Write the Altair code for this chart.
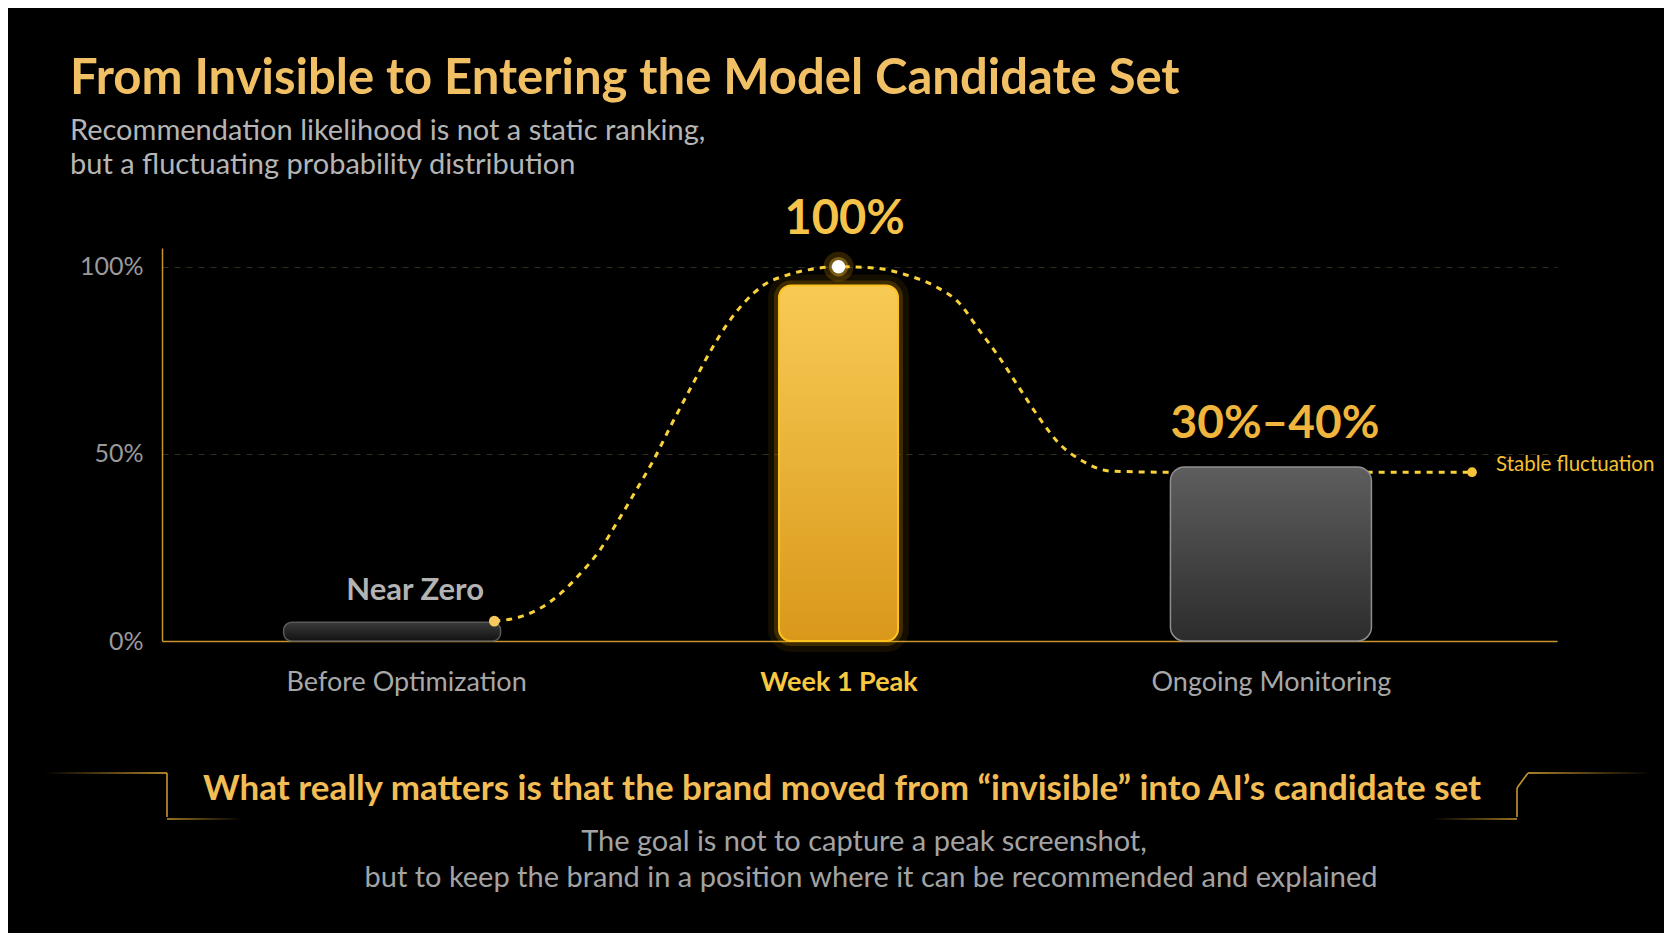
import altair as alt
import pandas as pd

# ---------------- data ----------------
categories = ["Before Optimization", "Week 1 Peak", "Ongoing Monitoring"]
bar_values = [5, 95, 46.5]
bar_labels = ["Near Zero", "100%", "30%–40%"]

# dotted trend curve (x in category units, y in %)
curve_x = [0.204, 0.262, 0.315, 0.361, 0.406, 0.445, 0.491, 0.528, 0.572, 0.613,
           0.659, 0.705, 0.744, 0.781, 0.827, 0.882, 0.941, 1.0, 1.088, 1.157,
           1.226, 1.279, 1.325, 1.371, 1.417, 1.463, 1.509, 1.561, 1.630, 1.768, 2.465]
curve_y = [5.3, 6.4, 9.1, 13.1, 18.4, 23.8, 32.3, 39.5, 48.3, 57.7,
           67.8, 77.7, 84.9, 90.3, 95.1, 97.8, 99.4, 100, 99.6, 97.8,
           94.6, 90.3, 83.1, 75.9, 67.8, 59.8, 52.9, 48.3, 45.4, 45.1, 45.1]

y_ticks = [0, 50, 100]
end_note = "Stable fluctuation"

title_text = "From Invisible to Entering the Model Candidate Set"
subtitle_lines = ["Recommendation likelihood is not a static ranking,",
                  "but a fluctuating probability distribution"]
headline_text = "What really matters is that the brand moved from “invisible” into AI’s candidate set"
footer_lines = ["The goal is not to capture a peak screenshot,",
                "but to keep the brand in a position where it can be recommended and explained"]

# ---------------- layout / style ----------------
W, H = 1395, 393
FONT = "Lato"
GOLD = "#c8952c"

bars = pd.DataFrame({"idx": list(range(len(categories))), "category": categories,
                     "value": bar_values, "label": bar_labels})
curve = pd.DataFrame({"x": curve_x, "y": curve_y})
peak_i = curve_y.index(max(curve_y))
start_pt = curve.iloc[[0]]
peak_pt = curve.iloc[[peak_i]]
end_pt = curve.iloc[[len(curve) - 1]].assign(note=end_note)

label_expr = "[" + ",".join("'" + c + "'" for c in categories) + "][datum.value]"

x_scale = alt.Scale(domain=[-0.553, 2.65], nice=False, zero=False)
y_scale = alt.Scale(domain=[0, 105], nice=False)

x_axis = alt.Axis(values=[0, 1, 2], labelExpr=label_expr, title=None, ticks=False, grid=False,
                  domainColor=GOLD, domainWidth=1.5, labelFont=FONT, labelFontSize=27,
                  labelBaseline="middle", labelPadding=41, labelLimit=0,
                  labelColor={"condition": {"test": "datum.value == 1", "value": "#f7c940"},
                              "value": "#a8a8a8"},
                  labelFontWeight={"condition": {"test": "datum.value == 1", "value": "bold"},
                                   "value": "normal"})
y_axis = alt.Axis(values=y_ticks, labelExpr="datum.value + '%'", title=None, ticks=False,
                  grid=True, gridDash=[6, 6], gridColor="#332c1e", gridWidth=1,
                  domainColor=GOLD, domainWidth=1.5, labelFont=FONT, labelFontSize=25,
                  labelColor="#9a9a9a", labelPadding=19)


def X(field):
    return alt.X(field, type="quantitative", scale=x_scale, axis=x_axis)


def Y(field):
    return alt.Y(field, type="quantitative", scale=y_scale, axis=y_axis)


def grad(c1, c2, vertical=True):
    return alt.Gradient(gradient="linear",
                        stops=[alt.GradientStop(color=c1, offset=0),
                               alt.GradientStop(color=c2, offset=1)],
                        x1=0, y1=0, x2=0 if vertical else 1, y2=1 if vertical else 0)


def one():
    return alt.Chart(pd.DataFrame({"k": [0]}))


# dotted curve
curve_layer = alt.Chart(curve).mark_line(
    interpolate="monotone", color="#f7d23a", strokeWidth=3, strokeDash=[6, 6]
).encode(x=X("x"), y=Y("y"))

def bar_layer(i, **kw):
    return alt.Chart(bars).transform_filter(alt.datum.idx == i).mark_bar(**kw).encode(
        x=X("idx"), y=Y("value"), y2=alt.datum(0))

glow1 = bar_layer(1, width=119, cornerRadius=12, fill="#ffb300", fillOpacity=0.0,
                  stroke="#ffb300", strokeWidth=22, strokeOpacity=0.08)
glow2 = bar_layer(1, width=119, cornerRadius=12, fill="#ffb300", fillOpacity=0.0,
                  stroke="#ffb300", strokeWidth=10, strokeOpacity=0.18)
bar0 = bar_layer(0, width=217, xOffset=-14, cornerRadius=8,
                 fill=grad("#3a3a3a", "#121212"), stroke="#5a5a5a", strokeWidth=1.5)
bar1 = bar_layer(1, width=119, cornerRadius=12,
                 fill=grad("#f8cb55", "#d9981a"), stroke="#ffc21f", strokeWidth=2)
bar2 = bar_layer(2, width=201, cornerRadius=14,
                 fill=grad("#5e5e5e", "#2c2c2c"), stroke="#8e8e8e", strokeWidth=1.5)

# markers on the curve
start_dot = alt.Chart(start_pt).mark_circle(size=115, color="#f5c860", opacity=1).encode(x=X("x"), y=Y("y"))
peak_glow = alt.Chart(peak_pt).mark_circle(size=900, color="#ffb300", opacity=0.18).encode(x=X("x"), y=Y("y"))
peak_glow2 = alt.Chart(peak_pt).mark_circle(size=380, color="#ffc940", opacity=0.35).encode(x=X("x"), y=Y("y"))
peak_dot = alt.Chart(peak_pt).mark_circle(size=180, color="#ffffff", opacity=1).encode(x=X("x"), y=Y("y"))
end_dot = alt.Chart(end_pt).mark_circle(size=95, color="#f5c23a", opacity=1).encode(x=X("x"), y=Y("y"))
end_text = alt.Chart(end_pt).mark_text(
    align="left", baseline="middle", dx=24, dy=-7, font=FONT, fontSize=20.5, color="#f5c030"
).encode(x=X("x"), y=Y("y"), text="note:N")

def value_label(i, **kw):
    return alt.Chart(bars).transform_filter(alt.datum.idx == i).mark_text(
        align="center", baseline="middle", font=FONT, fontWeight="bold", **kw
    ).encode(x=X("idx"), y=Y("value"), text="label:N")

lab0 = value_label(0, dx=9, dy=-31, fontSize=31, color="#b3b3b3")
lab1 = value_label(1, dx=6, dy=-65, fontSize=47, color="#f6c34a")
lab2 = value_label(2, dx=4, dy=-43, fontSize=46, color="#f0b53c")

# titles and footer (annotation text placed around the plot)
title = one().mark_text(text=title_text, align="left", baseline="alphabetic", font=FONT,
                        fontSize=49, fontWeight="bold", color="#f2c064").encode(
    x=alt.value(-92), y=alt.value(-154))
subtitle = one().mark_text(text=subtitle_lines, align="left", baseline="alphabetic", font=FONT,
                           fontSize=29, lineHeight=34, color="#b5b5b5").encode(
    x=alt.value(-92), y=alt.value(-108))
headline = one().mark_text(text=headline_text, align="center", baseline="middle", font=FONT,
                           fontSize=35, fontWeight="bold", color="#f2bd55").encode(
    x=alt.value(680), y=alt.value(541))
footer1 = one().mark_text(text=footer_lines[0], align="center", baseline="middle", font=FONT,
                          fontSize=29, color="#a3a3a3").encode(x=alt.value(702), y=alt.value(594))
footer2 = one().mark_text(text=footer_lines[1], align="center", baseline="middle", font=FONT,
                          fontSize=29, color="#a3a3a3").encode(x=alt.value(709), y=alt.value(630))

# decorative bracket frame around the headline
def hline(x0, x1, y, c0, c1):
    return one().mark_rect(fill=grad(c0, c1, vertical=False)).encode(
        x=alt.value(x0), x2=alt.value(x1), y=alt.value(y - 0.8), y2=alt.value(y + 0.8))

def seg(x0, y0, x1, y1, color=GOLD):
    return one().mark_rule(color=color, strokeWidth=1.6).encode(
        x=alt.value(x0), y=alt.value(y0), x2=alt.value(x1), y2=alt.value(y1))

frame = [
    hline(-119, 5, 525, "#000000", "#e0a838"),
    seg(5, 525, 5, 569),
    hline(5, 80, 571, "#c8952c", "#000000"),
    hline(1366, 1490, 525, "#e0a838", "#000000"),
    seg(1366, 525, 1355, 540),
    seg(1355, 540, 1355, 569),
    hline(1270, 1355, 571, "#000000", "#c8952c"),
]

chart = alt.layer(
    curve_layer, glow1, glow2, bar0, bar1, bar2,
    peak_glow, peak_glow2, start_dot, peak_dot, end_dot, end_text,
    lab0, lab1, lab2,
    title, subtitle, headline, footer1, footer2, *frame
).properties(
    width=W, height=H,
    padding={"left": 154, "top": 240, "right": 107, "bottom": 292},
    autosize=alt.AutoSizeParams(type="none"),
    background="#000000",
).configure_view(stroke=None)

chart.save("out.html", embed_options={"renderer": "svg", "actions": False})
